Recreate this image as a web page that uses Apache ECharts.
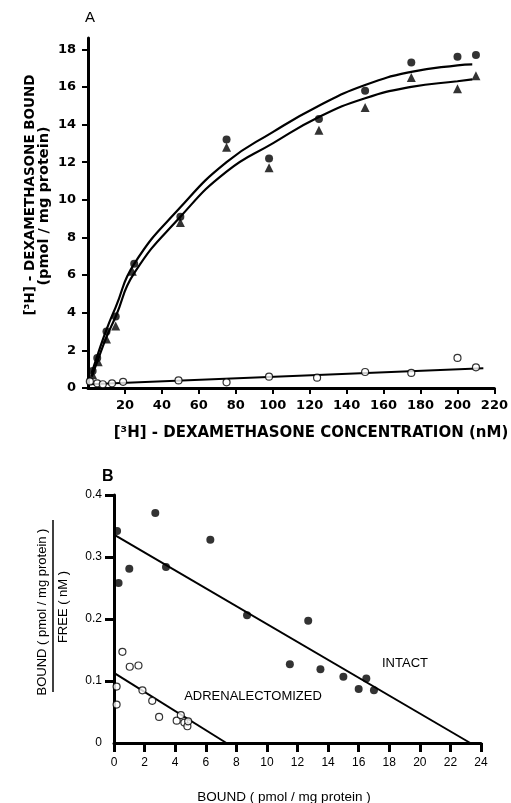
<!DOCTYPE html>
<html>
<head>
<meta charset="utf-8">
<script src="https://cdn.jsdelivr.net/npm/echarts@6/dist/echarts.min.js"></script>
<style>
html,body{margin:0;padding:0;background:#fff;}
#chart{width:511px;height:803px;}
</style>
</head>
<body>
<div id="chart"></div>
<script>
// panel A: saturation
var intactA = [[2.5,0.9],[5,1.6],[10,3.0],[15,3.8],[25,6.6],[50,9.1],[75,13.2],[98,12.2],[125,14.3],[150,15.8],[175,17.3],[200,17.6],[210,17.7]];
var triA = [[2.5,0.7],[5.5,1.4],[10,2.6],[15,3.3],[24,6.2],[50,8.8],[75,12.8],[98,11.7],[125,13.7],[150,14.9],[175,16.5],[200,15.9],[210,16.6]];
var adxA = [[1,0.35],[5,0.25],[8,0.2],[13,0.25],[19,0.33],[49,0.4],[75,0.3],[98,0.6],[124,0.55],[150,0.85],[175,0.8],[200,1.6],[210,1.1]];
var upperCurve = [[2,0.8],[5,1.7],[10,3.1],[15,4.3],[25,6.6],[50,9.6],[75,12.0],[100,13.6],[125,15.0],[150,16.1],[175,16.8],[200,17.15],[208,17.2]];
var lowerCurve = [[2,0.6],[5,1.4],[10,2.7],[15,3.8],[25,6.1],[50,9.1],[75,11.5],[100,13.0],[125,14.4],[150,15.4],[175,16.0],[200,16.3],[208,16.4]];
var adxLineA = [[1,0.2],[214,1.05]];
var xTicksA = [20,40,60,80,100,120,140,160,180,200,220];
var yTicksA = [0,2,4,6,8,10,12,14,16,18];

// panel B: Scatchard
var intactB = [[0.2,0.342],[0.3,0.258],[1.0,0.281],[2.7,0.371],[3.4,0.284],[6.3,0.328],[8.7,0.206],[12.7,0.197],[11.5,0.127],[13.5,0.119],[15.0,0.107],[16.0,0.087],[16.5,0.104],[17.0,0.085]];
var adxB = [[0.55,0.147],[1.03,0.123],[1.6,0.125],[0.17,0.091],[0.17,0.062],[1.86,0.085],[2.5,0.068],[2.95,0.042],[4.1,0.036],[4.37,0.045],[4.6,0.033],[4.8,0.027],[4.85,0.035]];
var intactLineB = [[0,0.336],[23.3,0]];
var adxLineB = [[0,0.113],[7.35,0]];
var yTicksB = [0,0.1,0.2,0.3,0.4];

var chart = echarts.init(document.getElementById('chart'));
var black = '#000';
var fontA = {color: black, fontFamily: 'DejaVu Sans', fontWeight: 'bold', fontSize: 13};
var fontB = {color: black, fontFamily: 'Liberation Sans, Arial, sans-serif', fontSize: 12};
var sans = 'Liberation Sans, Arial, sans-serif';

var option = {
    backgroundColor: '#fff',
    animation: false,
    grid: [
        {left: 88, top: 38, width: 409, height: 350},
        {left: 114, top: 495, width: 367, height: 248}
    ],
    xAxis: [
        {
            gridIndex: 0, type: 'value', min: 0, max: 220, interval: 20,
            axisLine: {lineStyle: {color: black, width: 3}},
            axisTick: {show: true, length: 6, lineStyle: {color: black, width: 2}, customValues: xTicksA},
            axisLabel: Object.assign({margin: 11, customValues: xTicksA}, fontA),
            splitLine: {show: false}
        },
        {
            gridIndex: 1, type: 'value', min: 0, max: 24, interval: 2,
            axisLine: {lineStyle: {color: black, width: 3}},
            axisTick: {show: true, length: 9, lineStyle: {color: black, width: 3}},
            axisLabel: Object.assign({margin: 14}, fontB),
            splitLine: {show: false}
        }
    ],
    yAxis: [
        {
            gridIndex: 0, type: 'value', min: 0, max: 18.6,
            axisLine: {lineStyle: {color: black, width: 3}},
            axisTick: {show: true, length: 6, lineStyle: {color: black, width: 2}, customValues: yTicksA},
            axisLabel: Object.assign({margin: 12, customValues: yTicksA}, fontA),
            splitLine: {show: false}
        },
        {
            gridIndex: 1, type: 'value', min: 0, max: 0.4, interval: 0.1,
            axisLine: {lineStyle: {color: black, width: 3}},
            axisTick: {show: true, length: 9, lineStyle: {color: black, width: 3}, customValues: yTicksB.slice(1)},
            axisLabel: Object.assign({margin: 12, customValues: yTicksB, formatter: function (v) { return v === 0 ? '0' : v.toFixed(1); }}, fontB),
            splitLine: {show: false}
        }
    ],
    series: [
        {type: 'line', xAxisIndex: 0, yAxisIndex: 0, data: upperCurve, smooth: 0.5, symbol: 'none', lineStyle: {color: black, width: 2.2}, z: 2},
        {type: 'line', xAxisIndex: 0, yAxisIndex: 0, data: lowerCurve, smooth: 0.5, symbol: 'none', lineStyle: {color: black, width: 2.2}, z: 2},
        {type: 'line', xAxisIndex: 0, yAxisIndex: 0, data: adxLineA, symbol: 'none', lineStyle: {color: black, width: 2}, z: 2},
        {type: 'scatter', xAxisIndex: 0, yAxisIndex: 0, data: intactA, symbol: 'circle', symbolSize: 8, itemStyle: {color: black}, z: 3},
        {type: 'scatter', xAxisIndex: 0, yAxisIndex: 0, data: triA, symbol: 'triangle', symbolSize: 9, itemStyle: {color: black}, z: 3},
        {type: 'scatter', xAxisIndex: 0, yAxisIndex: 0, data: adxA, symbol: 'circle', symbolSize: 7, itemStyle: {color: '#fff', borderColor: black, borderWidth: 1.2}, z: 3},

        {type: 'line', xAxisIndex: 1, yAxisIndex: 1, data: intactLineB, symbol: 'none', lineStyle: {color: black, width: 2}, z: 2},
        {type: 'line', xAxisIndex: 1, yAxisIndex: 1, data: adxLineB, symbol: 'none', lineStyle: {color: black, width: 2}, z: 2},
        {type: 'scatter', xAxisIndex: 1, yAxisIndex: 1, data: intactB, symbol: 'circle', symbolSize: 8, itemStyle: {color: black}, z: 3},
        {type: 'scatter', xAxisIndex: 1, yAxisIndex: 1, data: adxB, symbol: 'circle', symbolSize: 7, itemStyle: {color: '#fff', borderColor: black, borderWidth: 1.2}, z: 3}
    ],
    graphic: [
        {type: 'text', left: 85, top: 10, style: {text: 'A', fill: black, font: '15px ' + sans}},
        {type: 'text', x: 30, y: 195, rotation: Math.PI / 2,
            style: {text: '[³H] - DEXAMETHASONE BOUND', fill: black, align: 'center', verticalAlign: 'middle',
                font: 'bold 13.5px DejaVu Sans'}},
        {type: 'text', x: 44, y: 206, rotation: Math.PI / 2,
            style: {text: '(pmol / mg protein)', fill: black, align: 'center', verticalAlign: 'middle',
                font: 'bold 14.5px DejaVu Sans'}},
        {type: 'text', x: 311, y: 433,
            style: {text: '[³H] - DEXAMETHASONE CONCENTRATION (nM)', fill: black, align: 'center', verticalAlign: 'middle',
                font: 'bold 15px DejaVu Sans'}},
        {type: 'text', left: 102, top: 469, style: {text: 'B', fill: black, font: 'bold 16px ' + sans}},
        {type: 'text', x: 42, y: 612, rotation: Math.PI / 2,
            style: {text: 'BOUND ( pmol / mg protein )', fill: black, align: 'center', verticalAlign: 'middle',
                font: '13px ' + sans}},
        {type: 'line', shape: {x1: 53, y1: 520, x2: 53, y2: 692}, style: {stroke: black, lineWidth: 1.5}},
        {type: 'text', x: 63, y: 607, rotation: Math.PI / 2,
            style: {text: 'FREE ( nM )', fill: black, align: 'center', verticalAlign: 'middle',
                font: '13px ' + sans}},
        {type: 'text', x: 284, y: 797,
            style: {text: 'BOUND ( pmol / mg protein )', fill: black, align: 'center', verticalAlign: 'middle',
                font: '13.5px ' + sans}},
        {type: 'text', x: 405, y: 663,
            style: {text: 'INTACT', fill: black, align: 'center', verticalAlign: 'middle',
                font: '13px ' + sans}},
        {type: 'text', x: 253, y: 696,
            style: {text: 'ADRENALECTOMIZED', fill: black, align: 'center', verticalAlign: 'middle',
                font: '13px ' + sans}}
    ]
};
chart.setOption(option);
</script>
</body>
</html>
